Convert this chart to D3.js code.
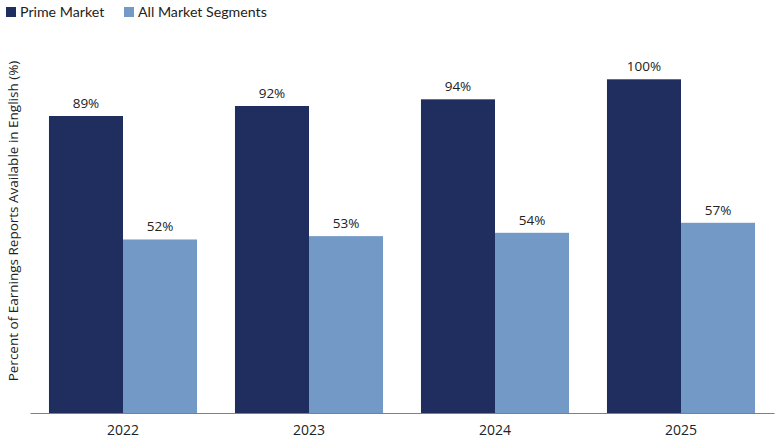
<!DOCTYPE html>
<html>
<head>
<meta charset="utf-8">
<script src="https://cdn.jsdelivr.net/npm/d3@7"></script>
<style>
  body { margin: 0; background: #fff; }
  svg { display: block; }
</style>
</head>
<body>
<div id="chart"></div>
<script>
// chart data
const years = ["2022", "2023", "2024", "2025"];
const seriesNames = ["Prime Market", "All Market Segments"];
const primeValues = [89, 92, 94, 100];
const allValues = [52, 53, 54, 57];

const colors = ["#1f2e5e", "#7399c6"];

// dimensions
const width = 780;
const height = 440;
const baseline = 413;
const top100 = 79.3;

const svg = d3.select("#chart").append("svg")
    .attr("width", width)
    .attr("height", height);

const x = d3.scaleBand()
    .domain(years)
    .range([30, 774])
    .paddingInner(0.204)
    .paddingOuter(0.102);

const xSub = d3.scaleBand()
    .domain(seriesNames)
    .range([0, x.bandwidth()]);

const y = d3.scaleLinear().domain([0, 100]).range([baseline, top100]);

const rows = years.map((yr, i) => ({
    year: yr,
    values: [
        {name: seriesNames[0], value: primeValues[i]},
        {name: seriesNames[1], value: allValues[i]}
    ]
}));

const groups = svg.selectAll("g.year")
    .data(rows)
    .join("g")
    .attr("class", "year")
    .attr("transform", d => `translate(${x(d.year)},0)`);

groups.selectAll("rect")
    .data(d => d.values)
    .join("rect")
    .attr("x", d => xSub(d.name))
    .attr("y", d => y(d.value))
    .attr("width", xSub.bandwidth())
    .attr("height", d => baseline - y(d.value))
    .attr("fill", (d, i) => colors[i]);

groups.selectAll("text.val")
    .data(d => d.values)
    .join("text")
    .attr("class", "val")
    .attr("x", d => xSub(d.name) + xSub.bandwidth() / 2)
    .attr("y", d => y(d.value) - 8)
    .attr("text-anchor", "middle")
    .attr("font-family", "'Open Sans', sans-serif")
    .attr("font-size", 13.5)
    .attr("fill", "#222")
    .text(d => `${d.value}%`);

// x axis
const xAxis = svg.append("g")
    .attr("transform", `translate(0,${baseline})`)
    .call(d3.axisBottom(x).tickSize(0).tickPadding(12));
xAxis.select(".domain").attr("stroke", "#808080").attr("stroke-width", 1.2);
xAxis.selectAll("text")
    .attr("font-family", "'Open Sans', sans-serif")
    .attr("font-size", 14)
    .attr("fill", "#222");

// y axis title
svg.append("text")
    .attr("transform", `translate(18,${(62 + 380) / 2}) rotate(-90)`)
    .attr("text-anchor", "middle")
    .attr("font-family", "'Open Sans', sans-serif")
    .attr("font-size", 13.5)
    .attr("fill", "#222")
    .text("Percent of Earnings Reports Available in English (%)");

// legend
const legendX = [6, 124];
const legend = svg.selectAll("g.legend")
    .data(seriesNames)
    .join("g")
    .attr("class", "legend")
    .attr("transform", (d, i) => `translate(${legendX[i]},7)`);
legend.append("rect")
    .attr("width", 10)
    .attr("height", 10)
    .attr("fill", (d, i) => colors[i]);
legend.append("text")
    .attr("x", 14)
    .attr("y", 10)
    .attr("font-family", "Lato, sans-serif")
    .attr("font-size", 14.2)
    .attr("fill", "#222")
    .text(d => d);
</script>
</body>
</html>
